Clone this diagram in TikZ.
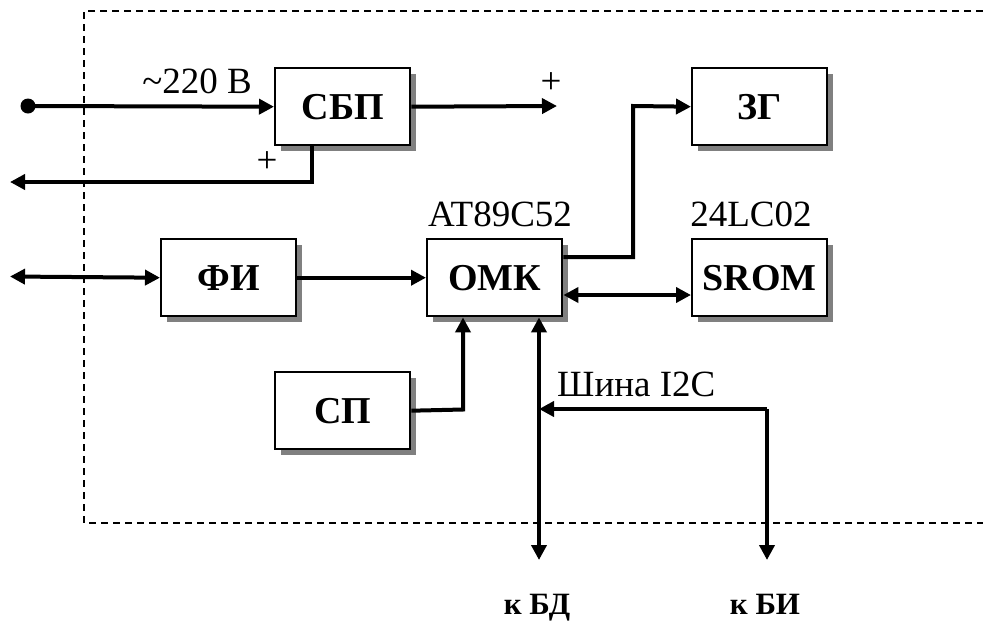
\documentclass[tikz,border=0pt]{standalone}
\usepackage{fontspec}
\setmainfont{Liberation Serif}
\usetikzlibrary{arrows.meta,shadows}
\begin{document}
\begin{tikzpicture}[x=1pt,y=-1pt,
  blk/.style={draw, line width=2.4pt, fill=white, anchor=north west,
    minimum width=135pt, minimum height=77pt, inner sep=0pt,
    font=\fontsize{38}{40}\selectfont\bfseries,
    drop shadow={shadow xshift=6pt, shadow yshift=-6pt, fill=black!50, opacity=1}},
  wire/.style={line width=4pt, -{Triangle[length=15pt,width=15pt]}},
  bwire/.style={line width=4pt, {Triangle[length=15pt,width=15pt]}-{Triangle[length=15pt,width=15pt]}},
  lbl/.style={font=\fontsize{37}{39}\selectfont, inner sep=0pt, anchor=base},
  blbl/.style={font=\fontsize{31}{33}\selectfont\bfseries, inner sep=0pt, anchor=base},
  frame/.style={line width=1.8pt, dash pattern=on 7pt off 5pt}
]
\useasboundingbox (0,0) rectangle (983,622);
\draw[frame] (983,11) -- (84,11) -- (84,523) -- (983,523);

\node[blk] (sbp) at (274,67) {СБП};
\node[blk] (zg) at (691,67) {ЗГ};
\node[blk] (fi) at (160,238) {ФИ};
\node[blk] (omk) at (426,238) {ОМК};
\node[blk] (srom) at (691,238) {SROM};
\node[blk] (sp) at (274,371) {СП};

\fill (28,106) circle (7.5pt) coordinate (in);
\coordinate (pout) at (557,106);
\coordinate (pret) at (10,182);
\coordinate (fiext) at (10,276.5);
\coordinate (bd) at (539,560);
\coordinate (bi) at (767,560);
\coordinate (bij) at (767,409);
\coordinate (bdj) at (539,409);

\draw[wire] (in) -- (sbp.west);
\draw[wire] (sbp.east) -- (pout);
\draw[wire] (sbp.south -| 312,0) -- (312,182) -- (pret);
\draw[bwire] (fiext) -- (fi.west);
\draw[wire] (fi.east) -- (omk.west);
\draw[wire] (omk.east |- 0,257) -- (633,257) -- (633,106) -- (zg.west);
\draw[bwire] (omk.east |- 0,295) -- (srom.west |- 0,295);
\draw[wire] (sp.east) -- (463,409.5) -- (omk.south -| 463,0);
\draw[bwire] (omk.south -| 539,0) -- (bd);
\draw[wire] (bij) -- (bdj);
\draw[wire] (bij) -- (bi);

\node[lbl] (l220) at (197,93) {\textasciitilde220 В};
\node[lbl] (lp1) at (551,93) {+};
\node[lbl] (lp2) at (267,172) {+};
\node[lbl] (lat) at (500,226) {AT89C52};
\node[lbl] (l24) at (751,226) {24LC02};
\node[lbl, anchor=base west] (li2c) at (557,396) {Шина I2C};
\node[blbl] (lbd) at (537,614) {к БД};
\node[blbl] (lbi) at (765,614) {к БИ};
\end{tikzpicture}
\end{document}
